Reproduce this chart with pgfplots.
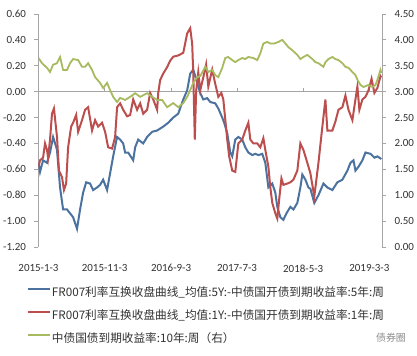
\documentclass[border=0pt]{standalone}
\usepackage{pgfplots}
\pgfplotsset{compat=1.18}
\usepackage{fontspec}
\setmainfont{Carlito}
\newfontfamily\cjk{Noto Sans CJK SC}
\definecolor{cblue}{RGB}{76,114,160}
\definecolor{cred}{RGB}{188,78,78}
\definecolor{cgreen}{RGB}{168,186,95}
\definecolor{axgray}{RGB}{165,165,165}
\definecolor{txt}{RGB}{50,50,50}
\begin{document}
\begin{tikzpicture}
\useasboundingbox (-38.5bp,-109bp) rectangle (378.5bp,247bp);
\pgfplotsset{
  base/.style={
    scale only axis, width=343.5bp, height=233bp,
    at={(0,0)}, anchor=south west,
    xmin=0, xmax=1578,
    /pgf/number format/assume math mode=true,
    tick label style={font=\fontsize{11}{13}\selectfont, text=txt},
    axis line style={-, axgray, line width=0.8bp},
    tick style={axgray, line width=0.8bp},
    tick align=outside, major tick length=4bp,
  }
}
\begin{axis}[base,
  axis y line*=left, axis x line*=bottom,
  x axis line style={draw=none},
  xtick style={draw=none},
  xtick={0,304,609,912,1216,1520},
  xticklabels={2015-1-3,2015-11-3,2016-9-3,2017-7-3,2018-5-3,2019-3-3},
  xticklabel style={yshift=-10bp},
  ymin=-1.2, ymax=0.6,
  ytick={-1.2,-1.0,-0.8,-0.6,-0.4,-0.2,0,0.2,0.4,0.6},
  yticklabel={\pgfmathprintnumber[fixed,fixed zerofill,precision=2]{\tick}},
  yticklabel style={xshift=-5bp},
  legend cell align=left,
  legend image code/.code={\draw[#1] (0bp,4bp) -- (22bp,4bp);},
  legend style={at={(-0.0335,-0.173)}, anchor=north west, draw=none, fill=none,
    inner sep=0pt, outer sep=0pt, row sep=11.5bp,
    font=\cjk\fontsize{11.7}{13}\selectfont, text=txt,
    nodes={inner sep=0pt, text height=9bp, text depth=2.5bp},
    /tikz/every odd column/.append style={column sep=1bp}},
]
\addplot[axgray, line width=1.3bp, forget plot] coordinates {(0,0) (1578,0)};
\addplot[axgray, line width=0.8bp, forget plot] coordinates {(304,0) (304,0.028)};
\addplot[axgray, line width=0.8bp, forget plot] coordinates {(609,0) (609,0.028)};
\addplot[axgray, line width=0.8bp, forget plot] coordinates {(912,0) (912,0.028)};
\addplot[axgray, line width=0.8bp, forget plot] coordinates {(1216,0) (1216,0.028)};
\addplot[axgray, line width=0.8bp, forget plot] coordinates {(1520,0) (1520,0.028)};
\addplot[cblue, line width=2bp] coordinates {
(0,-0.55) (7,-0.62) (21,-0.53) (39,-0.55) (53,-0.47) (67,-0.35) (80,-0.42) (85,-0.45) (99,-0.74) (113,-0.91) (131,-0.91) (145,-0.94) (159,-0.97) (177,-1.06) (191,-0.91) (205,-0.78) (219,-0.70) (237,-0.71) (251,-0.76) (269,-0.74) (283,-0.72) (297,-0.68) (315,-0.76) (329,-0.63) (343,-0.50) (361,-0.35) (375,-0.37) (389,-0.40) (398,-0.47) (412,-0.47) (435,-0.53) (444,-0.43) (458,-0.37) (481,-0.40) (499,-0.35) (522,-0.31) (545,-0.30) (573,-0.27) (596,-0.24) (619,-0.20) (642,-0.17) (665,-0.06) (683,0.01) (697,0.14) (711,0.17) (729,0.07) (743,-0.01) (757,-0.06) (775,-0.05) (789,-0.08) (812,-0.09) (826,-0.13) (844,-0.20) (853,-0.24) (867,-0.32) (881,-0.47) (890,-0.50) (904,-0.37) (918,-0.35) (936,-0.37) (950,-0.43) (964,-0.47) (982,-0.49) (996,-0.48) (1010,-0.49) (1028,-0.48) (1042,-0.55) (1056,-0.74) (1074,-0.71) (1088,-0.78) (1097,-0.89) (1111,-0.97) (1125,-0.99) (1139,-0.94) (1157,-0.89) (1171,-0.91) (1189,-0.86) (1203,-0.74) (1212,-0.64) (1226,-0.68) (1240,-0.74) (1249,-0.75) (1267,-0.86) (1286,-0.80) (1309,-0.71) (1327,-0.74) (1350,-0.76) (1373,-0.70) (1396,-0.68) (1419,-0.61) (1433,-0.55) (1447,-0.53) (1456,-0.61) (1470,-0.58) (1488,-0.53) (1502,-0.47) (1525,-0.48) (1543,-0.51) (1557,-0.50) (1575,-0.52)
};
\addlegendentry{FR007利率互换收盘曲线\_均值:5Y:-中债国开债到期收益率:5年:周}
\addplot[cred, line width=2bp] coordinates {
(0,-0.58) (7,-0.53) (21,-0.51) (30,-0.40) (39,-0.45) (44,-0.51) (53,-0.37) (62,-0.17) (71,-0.13) (85,-0.35) (94,-0.61) (108,-0.66) (117,-0.76) (127,-0.71) (136,-0.43) (150,-0.27) (159,-0.24) (173,-0.18) (182,-0.31) (200,-0.22) (214,-0.14) (228,-0.12) (246,-0.30) (260,-0.22) (274,-0.27) (292,-0.24) (306,-0.31) (320,-0.43) (338,-0.44) (352,-0.35) (361,-0.12) (375,-0.09) (389,-0.14) (407,-0.19) (421,-0.18) (435,-0.06) (453,-0.14) (467,-0.09) (481,-0.17) (499,-0.14) (513,-0.01) (527,-0.06) (545,-0.14) (550,-0.01) (559,0.09) (573,0.14) (591,0.19) (605,0.24) (619,0.27) (642,0.28) (665,0.30) (683,0.45) (697,0.49) (706,0.37) (711,0.14) (718,-0.37) (724,0.00) (734,0.15) (743,0.01) (757,0.11) (770,0.21) (780,0.04) (798,0.17) (812,0.06) (826,-0.04) (840,-0.01) (849,-0.06) (867,-0.37) (876,-0.50) (890,-0.61) (904,-0.62) (918,-0.40) (936,-0.37) (950,-0.30) (964,-0.24) (973,-0.37) (987,-0.40) (1005,-0.40) (1019,-0.43) (1033,-0.36) (1042,-0.45) (1056,-0.58) (1065,-0.74) (1074,-0.86) (1088,-0.94) (1097,-0.98) (1107,-0.81) (1116,-0.67) (1125,-0.72) (1143,-0.71) (1157,-0.70) (1171,-0.68) (1189,-0.61) (1203,-0.40) (1217,-0.45) (1235,-0.55) (1249,-0.63) (1267,-0.81) (1286,-0.55) (1304,-0.27) (1318,-0.06) (1327,-0.30) (1350,-0.30) (1364,-0.23) (1378,-0.14) (1396,-0.12) (1410,-0.03) (1424,-0.14) (1442,-0.22) (1456,-0.06) (1465,0.04) (1474,-0.14) (1488,-0.06) (1502,-0.04) (1516,0.01) (1530,0.10) (1543,-0.01) (1557,0.03) (1571,0.12) (1575,0.11)
};
\addlegendentry{FR007利率互换收盘曲线\_均值:1Y:-中债国开债到期收益率:1年:周}
\addlegendimage{cgreen, line width=2bp}
\addlegendentry{中债国债到期收益率:10年:周（右）}
\end{axis}
\begin{axis}[base,
  axis y line*=right, axis x line=none,
  ymin=0, ymax=4.5,
  ytick={0,0.5,1,1.5,2,2.5,3,3.5,4,4.5},
  yticklabel={\pgfmathprintnumber[fixed,fixed zerofill,precision=2]{\tick}},
  yticklabel style={xshift=5bp},
]
\addplot[cgreen, line width=1.8bp] coordinates {
(0,3.65) (16,3.55) (39,3.46) (53,3.38) (67,3.52) (85,3.55) (99,3.67) (113,3.42) (131,3.42) (145,3.55) (159,3.63) (182,3.61) (200,3.48) (214,3.48) (228,3.55) (246,3.42) (260,3.28) (283,3.17) (297,3.07) (315,3.17) (329,3.03) (343,2.90) (361,2.80) (375,2.88) (398,2.84) (421,2.90) (444,2.97) (467,2.90) (499,2.97) (522,2.90) (545,2.84) (568,2.84) (591,2.70) (619,2.78) (642,2.70) (665,2.78) (683,2.90) (697,3.03) (711,3.17) (729,3.28) (743,3.30) (766,3.48) (780,3.38) (798,3.42) (812,3.32) (826,3.28) (844,3.46) (858,3.65) (871,3.67) (890,3.61) (904,3.57) (918,3.61) (936,3.65) (950,3.63) (964,3.67) (987,3.65) (1005,3.61) (1019,3.74) (1033,3.93) (1051,3.96) (1065,3.93) (1083,3.93) (1102,3.96) (1120,4.00) (1134,3.93) (1148,3.86) (1166,3.80) (1189,3.71) (1203,3.63) (1217,3.67) (1235,3.71) (1258,3.63) (1272,3.57) (1286,3.55) (1309,3.48) (1318,3.57) (1332,3.63) (1350,3.67) (1364,3.63) (1378,3.61) (1396,3.55) (1410,3.48) (1424,3.46) (1442,3.38) (1456,3.32) (1465,3.23) (1479,3.13) (1493,3.09) (1516,3.13) (1534,3.09) (1548,3.13) (1557,3.23) (1571,3.42) (1575,3.36)
};
\end{axis}
\node[font=\cjk\fontsize{10}{12}\selectfont, text=black!45] at (352.5bp,-91bp) {债券圈};
\end{tikzpicture}
\end{document}
